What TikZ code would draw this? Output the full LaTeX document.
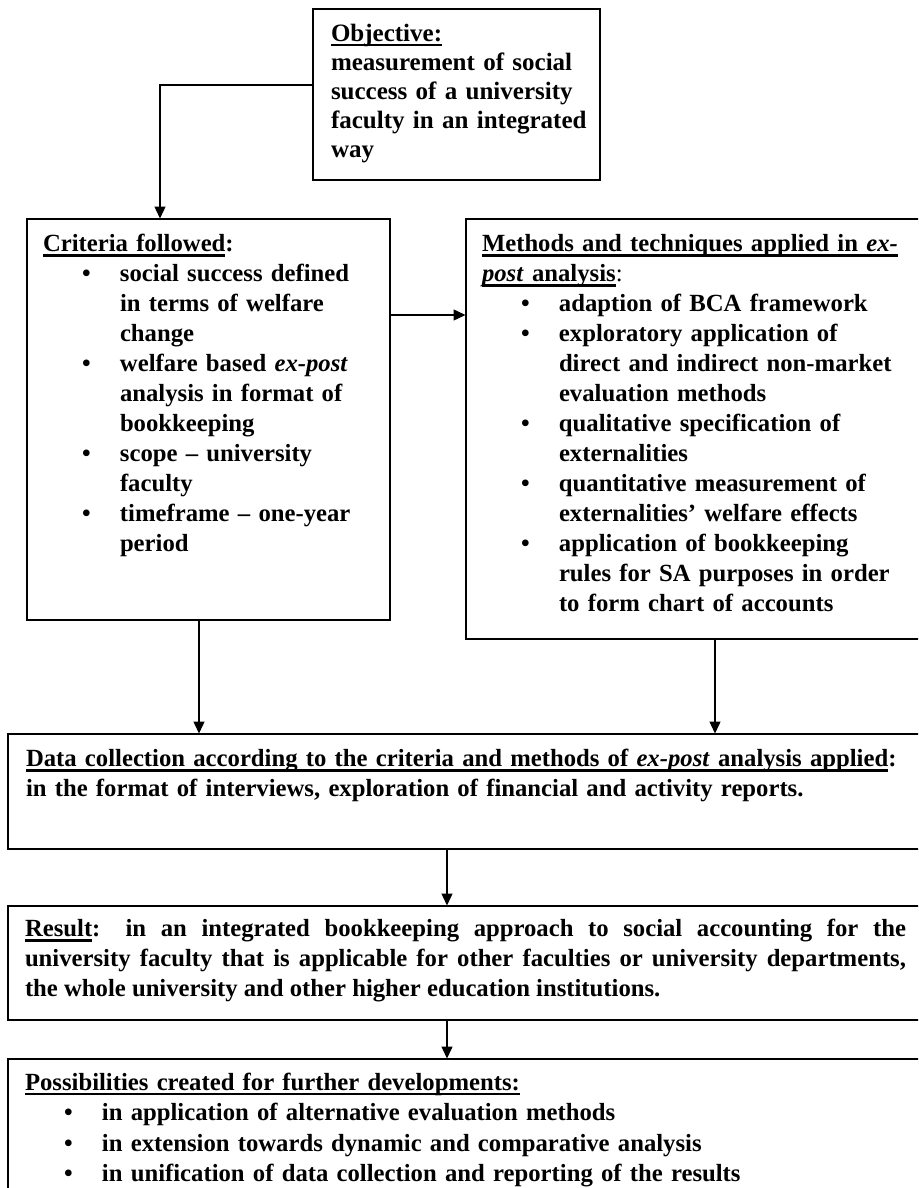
\documentclass[tikz,border=0pt]{standalone}
\usepackage{fontspec}
\setmainfont{Liberation Serif}
\usetikzlibrary{arrows.meta}

% underline with a heavy rule
\newcommand\ulx[1]{\setbox0=\hbox{#1}\rlap{\rule[-5pt]{\wd0}{2.5pt}}\box0}
% bullet line and its continuation lines
\newcommand\bitem[1]{\par\noindent\makebox[77pt][l]{\hspace{39pt}\textbullet}#1}
\newcommand\cont[1]{\par\noindent\hspace*{77pt}#1}
% fixed height for the first line of every text block
\newcommand\fl{\rule{0pt}{24pt}}

\begin{document}
\begin{tikzpicture}[x=1pt,y=-1pt,
  box/.style={draw, line width=1.8pt, inner sep=0pt, outer sep=0pt},
  txt/.style={anchor=north west, inner sep=0pt, outer sep=0pt, align=left,
    font=\fontsize{24.7}{30}\selectfont\bfseries},
  conn/.style={line width=1.4pt, -{Triangle[length=12pt,width=11pt]}, shorten >=0.5pt}]
\useasboundingbox (0,0) rectangle (918,1188);
\clip (0,0) rectangle (918,1188);
\fill[white] (0,0) rectangle (918,1188);

% boxes
\node[box, minimum width=287pt, minimum height=171pt] (obj)  at (456.5,94.5) {};
\node[box, minimum width=363pt, minimum height=401pt] (crit) at (208.5,419.5) {};
\node[box, minimum width=464pt, minimum height=420pt] (meth) at (698,429) {};
\node[box, minimum width=922pt, minimum height=115pt] (data) at (469,791.5) {};
\node[box, minimum width=922pt, minimum height=114pt] (res)  at (469,963) {};
\node[box, minimum width=922pt, minimum height=151pt] (poss) at (469,1134.5) {};

% texts
\node[txt, text width=265pt, font=\fontsize{25}{29}\selectfont\bfseries] (tobj) at (331,17.5) {%
\noindent\fl\ulx{Objective:}\par\noindent measurement of social\par\noindent success of a university\par\noindent faculty in an integrated\par\noindent way};

\node[txt, text width=345pt] (tcrit) at (43,227.5) {%
\noindent\fl\ulx{Criteria followed}:
\bitem{social success defined}
\cont{in terms of welfare}
\cont{change}
\bitem{welfare based \textit{ex-post}}
\cont{analysis in format of}
\cont{bookkeeping}
\bitem{scope -- university}
\cont{faculty}
\bitem{timeframe -- one-year}
\cont{period}};

\node[txt, text width=430pt] (tmeth) at (482,227.5) {%
\noindent\fl\ulx{Methods and techniques applied in \textit{ex-}}
\par\noindent\ulx{\textit{post} analysis}{\mdseries:}
\bitem{adaption of BCA framework}
\bitem{exploratory application of}
\cont{direct and indirect non-market}
\cont{evaluation methods}
\bitem{qualitative specification of}
\cont{externalities}
\bitem{quantitative measurement of}
\cont{externalities’ welfare effects}
\bitem{application of bookkeeping}
\cont{rules for SA purposes in order}
\cont{to form chart of accounts}};

\node[txt, text width=890pt] (tdata) at (26,742.5) {%
\noindent\fl\ulx{Data collection according to the criteria and methods of \textit{ex-post} analysis applied}:
\par\noindent in the format of interviews, exploration of financial and activity reports.};

\node[txt, text width=881pt, align=justify] (tres) at (25,912.5) {%
\noindent\fl\ulx{Result}: in an integrated bookkeeping approach to social accounting for the\linebreak
university faculty that is applicable for other faculties or university departments,\linebreak
the whole university and other higher education institutions.};

\node[txt, text width=890pt, font=\fontsize{24.7}{30.5}\selectfont\bfseries] (tposs) at (25,1066) {%
\noindent\fl\ulx{Possibilities created for further developments:}
\bitem{in application of alternative evaluation methods}
\bitem{in extension towards dynamic and comparative analysis}
\bitem{in unification of data collection and reporting of the results}};

% connector positions
\coordinate (yobj) at (0,85);
\coordinate (xobj) at (160,0);
\coordinate (ycm)  at (0,315);
\coordinate (xcrit) at (199,0);
\coordinate (xmeth) at (715,0);
\coordinate (xmid) at (447,0);

% connectors
\draw[conn] (obj.west |- yobj) -| (crit.north -| xobj);
\draw[conn] (crit.east |- ycm) -- (meth.west |- ycm);
\draw[conn] (crit.south -| xcrit) -- (data.north -| xcrit);
\draw[conn] (meth.south -| xmeth) -- (data.north -| xmeth);
\draw[conn] (data.south -| xmid) -- (res.north -| xmid);
\draw[conn] (res.south -| xmid) -- (poss.north -| xmid);
\end{tikzpicture}
\end{document}
